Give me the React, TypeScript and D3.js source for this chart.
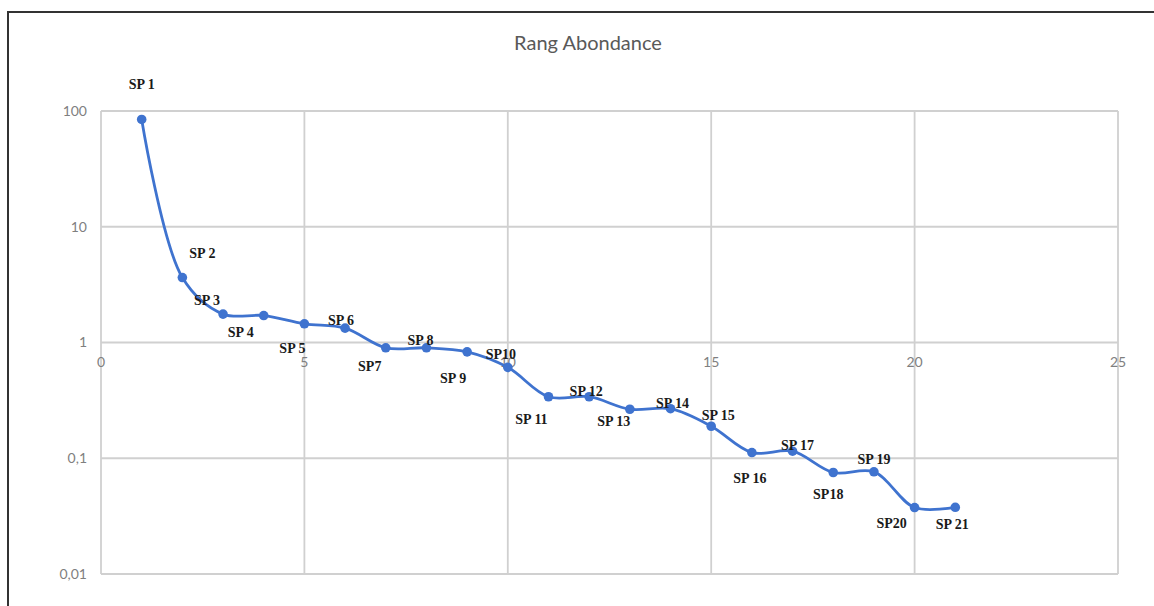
import * as d3 from 'd3';

// ---------------------------------------------------------------------------
// Data
// ---------------------------------------------------------------------------
const RANKS = [1, 2, 3, 4, 5, 6, 7, 8, 9, 10, 11, 12, 13, 14, 15, 16, 17, 18, 19, 20, 21];
const ABUNDANCE = [
  84.5, 3.64, 1.76, 1.71, 1.45, 1.33, 0.9, 0.9, 0.83, 0.61, 0.34, 0.34, 0.265, 0.268, 0.189,
  0.112, 0.115, 0.0753, 0.0764, 0.0375, 0.0377,
];
const LABELS = [
  'SP 1', 'SP 2', 'SP 3', 'SP 4', 'SP 5', 'SP 6', 'SP7', 'SP 8', 'SP 9', 'SP10', 'SP 11',
  'SP 12', 'SP 13', 'SP 14', 'SP 15', 'SP 16', 'SP 17', 'SP18', 'SP 19', 'SP20', 'SP 21',
];
const X_TICKS = [0, 5, 10, 15, 20, 25];
const Y_TICKS = [100, 10, 1, 0.1, 0.01];
const Y_TICK_LABELS = ['100', '10', '1', '0,1', '0,01'];

// Manual label placement (Excel-style dragged labels), pixel offsets from the point
const LABEL_OFFSETS: Array<[number, number]> = [
  [0, -35], [20, -24], [-16, -14], [-23, 17], [-12, 24], [-4, -8], [-16, 18], [-6, -8],
  [-14, 26], [-7, -13], [-17, 22], [-3, -6], [-16, 12], [2, -6], [7, -11], [-2, 26],
  [5, -6], [-5, 22], [0, -13], [-23, 16], [-3, 17],
];

// ---------------------------------------------------------------------------
// Styles
// ---------------------------------------------------------------------------
const W = 1154;
const H = 606;
const LINE = '#3f73cf';
const GRID = '#d0d0d0';
const AXIS_TEXT = '#7f7f7f';
const margin = { top: 111, right: 36, bottom: 32, left: 101 };

export default function App() {
  const innerW = W - margin.left - margin.right;
  const innerH = H - margin.top - margin.bottom;

  const x = d3.scaleLinear().domain([0, 25]).range([0, innerW]);
  const y = d3.scaleLog().domain([0.01, 100]).range([innerH, 0]);

  const pts: Array<[number, number]> = RANKS.map((r, i) => [x(r), y(ABUNDANCE[i])]);
  const line = d3.line().curve(d3.curveCatmullRom.alpha(0.5))(pts) ?? '';

  const y1 = y(1);

  return (
    <svg
      width={W}
      height={H}
      style={{ position: 'absolute', left: 0, top: 0, background: '#fff' }}
    >
      {/* outer frame of the screenshot */}
      <rect x={8} y={12} width={W + 10} height={H + 10} fill="none" stroke="#333" strokeWidth={2} />

      <text
        x={588}
        y={50}
        textAnchor="middle"
        fontFamily="Lato, 'Open Sans', sans-serif"
        fontSize={20}
        fill="#595959"
      >
        Rang Abondance
      </text>

      <g transform={`translate(${margin.left},${margin.top})`}>
        {/* horizontal gridlines */}
        {Y_TICKS.map((t) => (
          <line key={`h${t}`} x1={0} x2={innerW} y1={y(t)} y2={y(t)} stroke={GRID} strokeWidth={1.8} />
        ))}
        {/* vertical gridlines */}
        {X_TICKS.map((t) => (
          <line key={`v${t}`} x1={x(t)} x2={x(t)} y1={0} y2={innerH} stroke={GRID} strokeWidth={1.8} />
        ))}

        {/* y tick labels */}
        {Y_TICKS.map((t, i) => (
          <text
            key={`yl${t}`}
            x={-14}
            y={y(t)}
            dy="0.35em"
            textAnchor="end"
            fontFamily="Lato, 'Open Sans', sans-serif"
            fontSize={14}
            fill={AXIS_TEXT}
          >
            {Y_TICK_LABELS[i]}
          </text>
        ))}

        {/* x tick labels (axis crosses at y = 1) */}
        {X_TICKS.map((t) => (
          <text
            key={`xl${t}`}
            x={x(t)}
            y={y1 + 20}
            dy="0.35em"
            textAnchor="middle"
            fontFamily="Lato, 'Open Sans', sans-serif"
            fontSize={14}
            fill={AXIS_TEXT}
          >
            {t}
          </text>
        ))}

        <path d={line} fill="none" stroke={LINE} strokeWidth={2.8} />
        {pts.map(([px, py], i) => (
          <circle key={`p${i}`} cx={px} cy={py} r={4.8} fill={LINE} />
        ))}

        {/* data labels */}
        {pts.map(([px, py], i) => (
          <text
            key={`lab${i}`}
            x={px + LABEL_OFFSETS[i][0]}
            y={py + LABEL_OFFSETS[i][1]}
            dy="0.35em"
            textAnchor="middle"
            fontFamily="'Liberation Serif', 'DejaVu Serif', serif"
            fontWeight="bold"
            fontSize={14}
            fill="#1a1a1a"
          >
            {LABELS[i]}
          </text>
        ))}
      </g>
    </svg>
  );
}
